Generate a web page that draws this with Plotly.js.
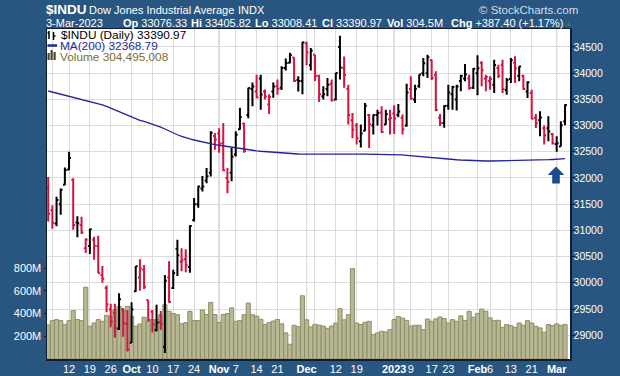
<!DOCTYPE html>
<html><head><meta charset="utf-8">
<script src="https://cdn.plot.ly/plotly-3.0.1.min.js"></script>
<style>html,body{margin:0;padding:0;background:#295680;}#chart{width:620px;height:376px;}</style>
</head><body><div id="chart"></div>
<script>
const dates = ['2022-09-02','2022-09-06','2022-09-07','2022-09-08','2022-09-09','2022-09-12','2022-09-13','2022-09-14','2022-09-15','2022-09-16',
'2022-09-19','2022-09-20','2022-09-21','2022-09-22','2022-09-23','2022-09-26','2022-09-27','2022-09-28','2022-09-29','2022-09-30',
'2022-10-03','2022-10-04','2022-10-05','2022-10-06','2022-10-07','2022-10-10','2022-10-11','2022-10-12','2022-10-13','2022-10-14',
'2022-10-17','2022-10-18','2022-10-19','2022-10-20','2022-10-21','2022-10-24','2022-10-25','2022-10-26','2022-10-27','2022-10-28',
'2022-10-31','2022-11-01','2022-11-02','2022-11-03','2022-11-04','2022-11-07','2022-11-08','2022-11-09','2022-11-10','2022-11-11',
'2022-11-14','2022-11-15','2022-11-16','2022-11-17','2022-11-18','2022-11-21','2022-11-22','2022-11-23','2022-11-25','2022-11-28',
'2022-11-29','2022-11-30','2022-12-01','2022-12-02','2022-12-05','2022-12-06','2022-12-07','2022-12-08','2022-12-09','2022-12-12',
'2022-12-13','2022-12-14','2022-12-15','2022-12-16','2022-12-19','2022-12-20','2022-12-21','2022-12-22','2022-12-23','2022-12-27',
'2022-12-28','2022-12-29','2022-12-30','2023-01-03','2023-01-04','2023-01-05','2023-01-06','2023-01-09','2023-01-10','2023-01-11',
'2023-01-12','2023-01-13','2023-01-17','2023-01-18','2023-01-19','2023-01-20','2023-01-23','2023-01-24','2023-01-25','2023-01-26',
'2023-01-27','2023-01-30','2023-01-31','2023-02-01','2023-02-02','2023-02-03','2023-02-06','2023-02-07','2023-02-08','2023-02-09',
'2023-02-10','2023-02-13','2023-02-14','2023-02-15','2023-02-16','2023-02-17','2023-02-21','2023-02-22','2023-02-23','2023-02-24',
'2023-02-27','2023-02-28','2023-03-01','2023-03-02','2023-03-03'];

const open = [31810,31390,31130,31500,31870,32160,31960,31150,31100,30660,
30700,30820,30700,30150,29900,29490,29430,29130,29500,29220,
28855,29840,30100,30250,29670,29450,29100,29250,28780,30100,
29900,30650,30400,30450,30300,31200,31500,31800,31950,32100,
32800,32850,32670,32000,32100,32450,32930,33040,33200,33700,
33650,33900,33650,33400,33650,33750,33720,34100,34200,34300,
33870,33850,34570,34150,34350,33950,33560,33700,33800,33500,
34500,34100,33700,33100,33000,32700,32900,33200,33000,33200,
33250,33020,33120,33230,33200,33150,33000,33700,33500,33750,
34000,34000,34250,33960,33150,33050,33380,33600,33500,33850,
33900,33900,33720,34000,34200,33900,33850,33780,34100,34150,
33680,33890,34200,33950,33950,33650,33620,33150,33100,32950,
32950,32840,32650,32600,33076.33];

const high = [32020,31480,31640,31800,32200,32500,31995,31270,31260,30850,
31030,30880,30900,30320,29950,29600,29600,29800,29510,29480,
29630,30320,30450,30340,29670,29480,29580,29460,30150,30410,
30250,30820,30660,30640,31100,31620,31850,32040,32190,32890,
32860,32950,33050,32190,32570,32890,33340,33050,33720,33820,
33970,33970,33690,33600,33820,33880,34130,34280,34390,34300,
33940,34595,34600,34480,34350,33970,33750,33910,33880,34010,
34712,34320,33780,33240,33050,33020,33430,33222,33210,33300,
33370,33300,33300,33390,33410,33210,33800,33940,33780,33975,
34290,34350,34260,34036,33222,33390,33780,33760,33780,33972,
34176,33972,34099,34340,34226,33972,33940,34258,34163,34258,
33908,34290,34322,34131,33972,33845,33686,33222,33272,33000,
33177,32860,32795,33082,33405.82];

const low = [31170,31030,31080,31300,31860,32150,31010,30870,30930,30570,
30550,30440,30180,30000,29440,29150,28950,29100,28970,28690,
28850,29830,29850,29880,29260,29050,29070,29100,28660,29620,
29880,30130,30220,30200,30190,31170,31430,31740,31900,32030,
32540,32480,32130,31710,31940,32410,32920,32480,33140,33370,
33527,33300,33500,33220,33530,33590,33680,34050,34190,33830,
33650,33600,34150,34050,33850,33450,33500,33560,33460,33480,
33880,33720,33020,32760,32640,32580,32890,32573,32830,33000,
32860,33018,32830,32840,33160,32830,32980,33495,33430,33720,
33940,33910,33870,33272,32990,32960,33300,33300,33290,33654,
33845,33686,33700,33580,33750,33654,33686,33622,33908,33622,
33590,33813,33813,33845,33686,33527,33120,32954,32795,32640,
32700,32637,32500,32600,33008.41];

const close = [31318,31145,31581,31775,32152,32381,31105,31135,30961,30822,
31020,30706,30184,30077,29590,29261,29135,29684,29226,28726,
29491,30317,30274,29927,29297,29203,29240,29211,30039,29635,
30186,30524,30424,30334,31083,31500,31837,31839,32034,32861,
32733,32653,32148,31925,32403,32827,33161,32514,33716,33748,
33537,33593,33554,33547,33746,33700,34098,34194,34347,33850,
33853,34590,34395,34430,33947,33597,33598,33781,33477,34005,
34109,33966,33203,32920,32758,32850,33377,33027,33204,33242,
32876,33221,33147,33136,33270,32930,33631,33518,33704,33974,
34190,34303,33910,33297,33045,33375,33630,33734,33744,33950,
33978,33717,34086,34093,34054,33926,33891,34156,33949,33699,
33869,34246,34089,34128,33697,33827,33130,33045,33154,32817,
32889,32657,32662,33004,33390.97];

const prevClose = 31656;

const volumeM = [300,338,347,338,303,338,426,347,338,632,
288,317,347,332,385,376,435,464,426,464,
376,288,308,368,332,347,347,390,478,420,
400,390,310,320,420,338,338,432,392,498,
392,322,392,400,450,332,340,390,492,390,
378,350,305,320,335,348,310,230,130,297,
285,557,345,283,305,298,290,270,290,316,
443,345,390,796,317,303,323,332,215,230,
244,239,260,348,375,360,340,290,297,297,
260,352,332,353,370,356,317,347,332,380,
340,420,368,400,440,420,362,338,341,279,
303,294,279,317,297,338,317,288,274,236,
303,294,309,297,304.495];

const ma200 = [33660,33640,33620,33600,33580,33560,33540,33520,33500,33480,
33460,33440,33420,33395,33365,33330,33300,33265,33225,33190,
33160,33130,33100,33080,33055,33030,33000,32970,32935,32895,
32860,32825,32795,32765,32745,32725,32705,32685,32668,32652,
32638,32625,32612,32598,32584,32570,32557,32544,32534,32526,
32518,32510,32503,32496,32490,32484,32478,32472,32466,32461,
32458,32456,32455,32454,32454,32453,32453,32452,32452,32452,
32453,32454,32455,32455,32455,32454,32454,32454,32453,32453,
32453,32453,32452,32452,32448,32440,32432,32424,32416,32408,
32400,32392,32386,32380,32376,32370,32362,32355,32348,32343,
32338,32334,32330,32327,32325,32324,32324,32325,32326,32328,
32330,32331,32333,32335,32337,32339,32341,32343,32344,32346,
32349,32353,32358,32363,32368.79];

const gridDates = ['2022-09-06','2022-09-12','2022-09-19','2022-09-26','2022-10-03','2022-10-10','2022-10-17','2022-10-24',
'2022-11-01','2022-11-07','2022-11-14','2022-11-21','2022-12-01','2022-12-05','2022-12-12','2022-12-19','2022-12-27',
'2023-01-03','2023-01-09','2023-01-17','2023-01-23','2023-02-01','2023-02-06','2023-02-13','2023-02-21','2023-03-01'];
const gridLabels = ['','12','19','26','<b>Oct</b>','10','17','24','<b>Nov</b>','7','14','21','<b>Dec</b>','','12','19','',
'<b>2023</b>','9','17','23','<b>Feb</b>','6','13','21','<b>Mar</b>'];
const monthStarts = ['2022-10-03','2022-11-01','2022-12-01','2023-01-03','2023-02-01','2023-03-01'];

const volTicks = [200,400,600,800];
const volTickText = ['200M','400M','600M','800M'];

// split bars by close vs previous close (StockCharts colouring)
const up = {x:[],o:[],h:[],l:[],c:[]}, dn = {x:[],o:[],h:[],l:[],c:[]};
for (let i = 0; i < dates.length; i++) {
  const pc = i === 0 ? prevClose : close[i-1];
  const g = close[i] >= pc ? up : dn;
  g.x.push(dates[i]); g.o.push(open[i]); g.h.push(high[i]); g.l.push(low[i]); g.c.push(close[i]);
}

const FONT = 'Liberation Sans, Arial, sans-serif';
function ohlcTrace(g, color) {
  return {type:'ohlc', x:g.x, open:g.o, high:g.h, low:g.l, close:g.c, xaxis:'x', yaxis:'y2',
    increasing:{line:{color:color, width:2}}, decreasing:{line:{color:color, width:2}},
    tickwidth:0.45, hoverinfo:'skip'};
}

const traces = [
  {type:'bar', x:dates, y:volumeM, xaxis:'x', yaxis:'y', width:1,
   marker:{color:'#b7b793', line:{color:'#8e8e68', width:1}}, hoverinfo:'skip'},
  {type:'scatter', mode:'lines', x:dates, y:ma200, xaxis:'x', yaxis:'y2',
   line:{color:'#23239a', width:1.3}, hoverinfo:'skip'},
  ohlcTrace(up, '#000000'),
  ohlcTrace(dn, '#d6123e')
];

// pixel helpers for decorations (plot area 47..570 x 29..359)
const PL = 47, PW = 523, PT = 29, PH = 330;
const X = px => (px - PL) / PW;
const Y = py => 1 - (py - PT) / PH;
function ann(text, px, py, size, color, extra) {
  return Object.assign({xref:'paper', yref:'paper', x:X(px), y:Y(py), xanchor:'left', yanchor:'middle',
    borderpad:0, text:text, showarrow:false,
    font:{family:FONT, size:size, color:color}}, extra || {});
}

const shapes = monthStarts.map(d => ({type:'line', xref:'x', yref:'paper', x0:d, x1:d, y0:0, y1:1,
  line:{color:'#b3b3b3', width:1}, layer:'below'}));
// blue arrow
shapes.push({type:'path', xref:'paper', yref:'paper', fillcolor:'#1d4c8c', line:{width:0},
  path:`M ${X(556)} ${Y(166.5)} L ${X(564.3)} ${Y(175)} L ${X(559.8)} ${Y(175)} L ${X(559.8)} ${Y(183.5)} L ${X(552.2)} ${Y(183.5)} L ${X(552.2)} ${Y(175)} L ${X(547.7)} ${Y(175)} Z`});
// legend icons
shapes.push({type:'line', xref:'paper', yref:'paper', x0:X(49), x1:X(49), y0:Y(31), y1:Y(39), line:{color:'#000', width:1.5}});
shapes.push({type:'line', xref:'paper', yref:'paper', x0:X(47.5), x1:X(49), y0:Y(33), y1:Y(33), line:{color:'#000', width:1.5}});
shapes.push({type:'line', xref:'paper', yref:'paper', x0:X(53.5), x1:X(53.5), y0:Y(32), y1:Y(40), line:{color:'#000', width:1.5}});
shapes.push({type:'line', xref:'paper', yref:'paper', x0:X(53.5), x1:X(55.5), y0:Y(36), y1:Y(36), line:{color:'#000', width:1.5}});
shapes.push({type:'line', xref:'paper', yref:'paper', x0:X(47.5), x1:X(57), y0:Y(45.5), y1:Y(45.5), line:{color:'#1f2b96', width:2.5}});
[[47.5,53],[50.5,50],[53.5,52]].forEach(b => shapes.push({type:'rect', xref:'paper', yref:'paper',
  x0:X(b[0]), x1:X(b[0]+2.2), y0:Y(60), y1:Y(b[1]), fillcolor:'#4b4a2c', line:{width:0}}));

const annotations = [
  ann('<b>$INDU</b>', 45, 9.5, 13.5, '#ffffff'),
  ann('Dow Jones Industrial Average', 88, 10.5, 11, '#ffffff'),
  ann('INDX', 237, 10.5, 11, '#ffffff'),
  ann('© StockCharts.com', 478, 10.5, 11.5, '#d5dde6'),
  ann('3-Mar-2023', 45, 23, 11, '#ffffff'),
  ann('<b>Op</b> 33076.33', 122, 23, 11, '#ffffff'),
  ann('<b>Hi</b> 33405.82', 190, 23, 11, '#ffffff'),
  ann('<b>Lo</b> 33008.41', 254, 23, 11, '#ffffff'),
  ann('<b>Cl</b> 33390.97', 321, 23, 11, '#ffffff'),
  ann('<b>Vol</b> 304.5M', 386, 23, 11, '#ffffff'),
  ann('<b>Chg</b> +387.40 (+1.17%)', 450, 23, 11, '#ffffff'),
  ann('▲', 564, 23.5, 7, '#2f8a3c'),
  ann('$INDU (Daily) 33390.97', 60, 34.7, 11.8, '#000000'),
  ann('MA(200) 32368.79', 59, 45.6, 11.8, '#1f2b9e'),
  ann('Volume 304,495,008', 59, 56.6, 11.8, '#7c6d2c')
];

const layout = {
  width:620, height:376,
  paper_bgcolor:'#295680', plot_bgcolor:'#ffffff',
  margin:{l:PL, r:50, t:29, b:17, pad:0},
  showlegend:false, bargap:0,
  xaxis:{type:'category', categoryorder:'array', categoryarray:dates, range:[-0.288, 125.19],
    rangeslider:{visible:false},
    tickmode:'array', tickvals:gridDates, ticktext:gridLabels, tickangle:0,
    showgrid:true, gridcolor:'#dcdcdc', gridwidth:1, ticks:'', ticklabelstandoff:-1,
    tickfont:{family:FONT, size:11, color:'#ffffff'},
    showline:true, mirror:true, linecolor:'#0f1c36', linewidth:1.5, zeroline:false, fixedrange:true},
  yaxis:{side:'left', range:[0, 2907], tickmode:'array', tickvals:volTicks, ticktext:volTickText,
    showgrid:false, ticks:'outside', ticklen:2, tickcolor:'#0f1c36',
    tickfont:{family:FONT, size:11, color:'#ffffff'},
    showline:true, linecolor:'#0f1c36', linewidth:1.5, zeroline:false, fixedrange:true},
  yaxis2:{overlaying:'y', side:'right', range:[28546, 34843], tick0:0, dtick:500, tickformat:'d',
    showgrid:true, gridcolor:'#dcdcdc', gridwidth:1, ticks:'outside', ticklen:3, tickcolor:'#0f1c36',
    ticklabelstandoff:-3,
    tickfont:{family:FONT, size:10.5, color:'#ffffff'},
    showline:true, linecolor:'#0f1c36', linewidth:1.5, zeroline:false, fixedrange:true},
  shapes:shapes,
  annotations:annotations
};

Plotly.newPlot('chart', traces, layout, {staticPlot:true, displayModeBar:false});
</script>
</body></html>
